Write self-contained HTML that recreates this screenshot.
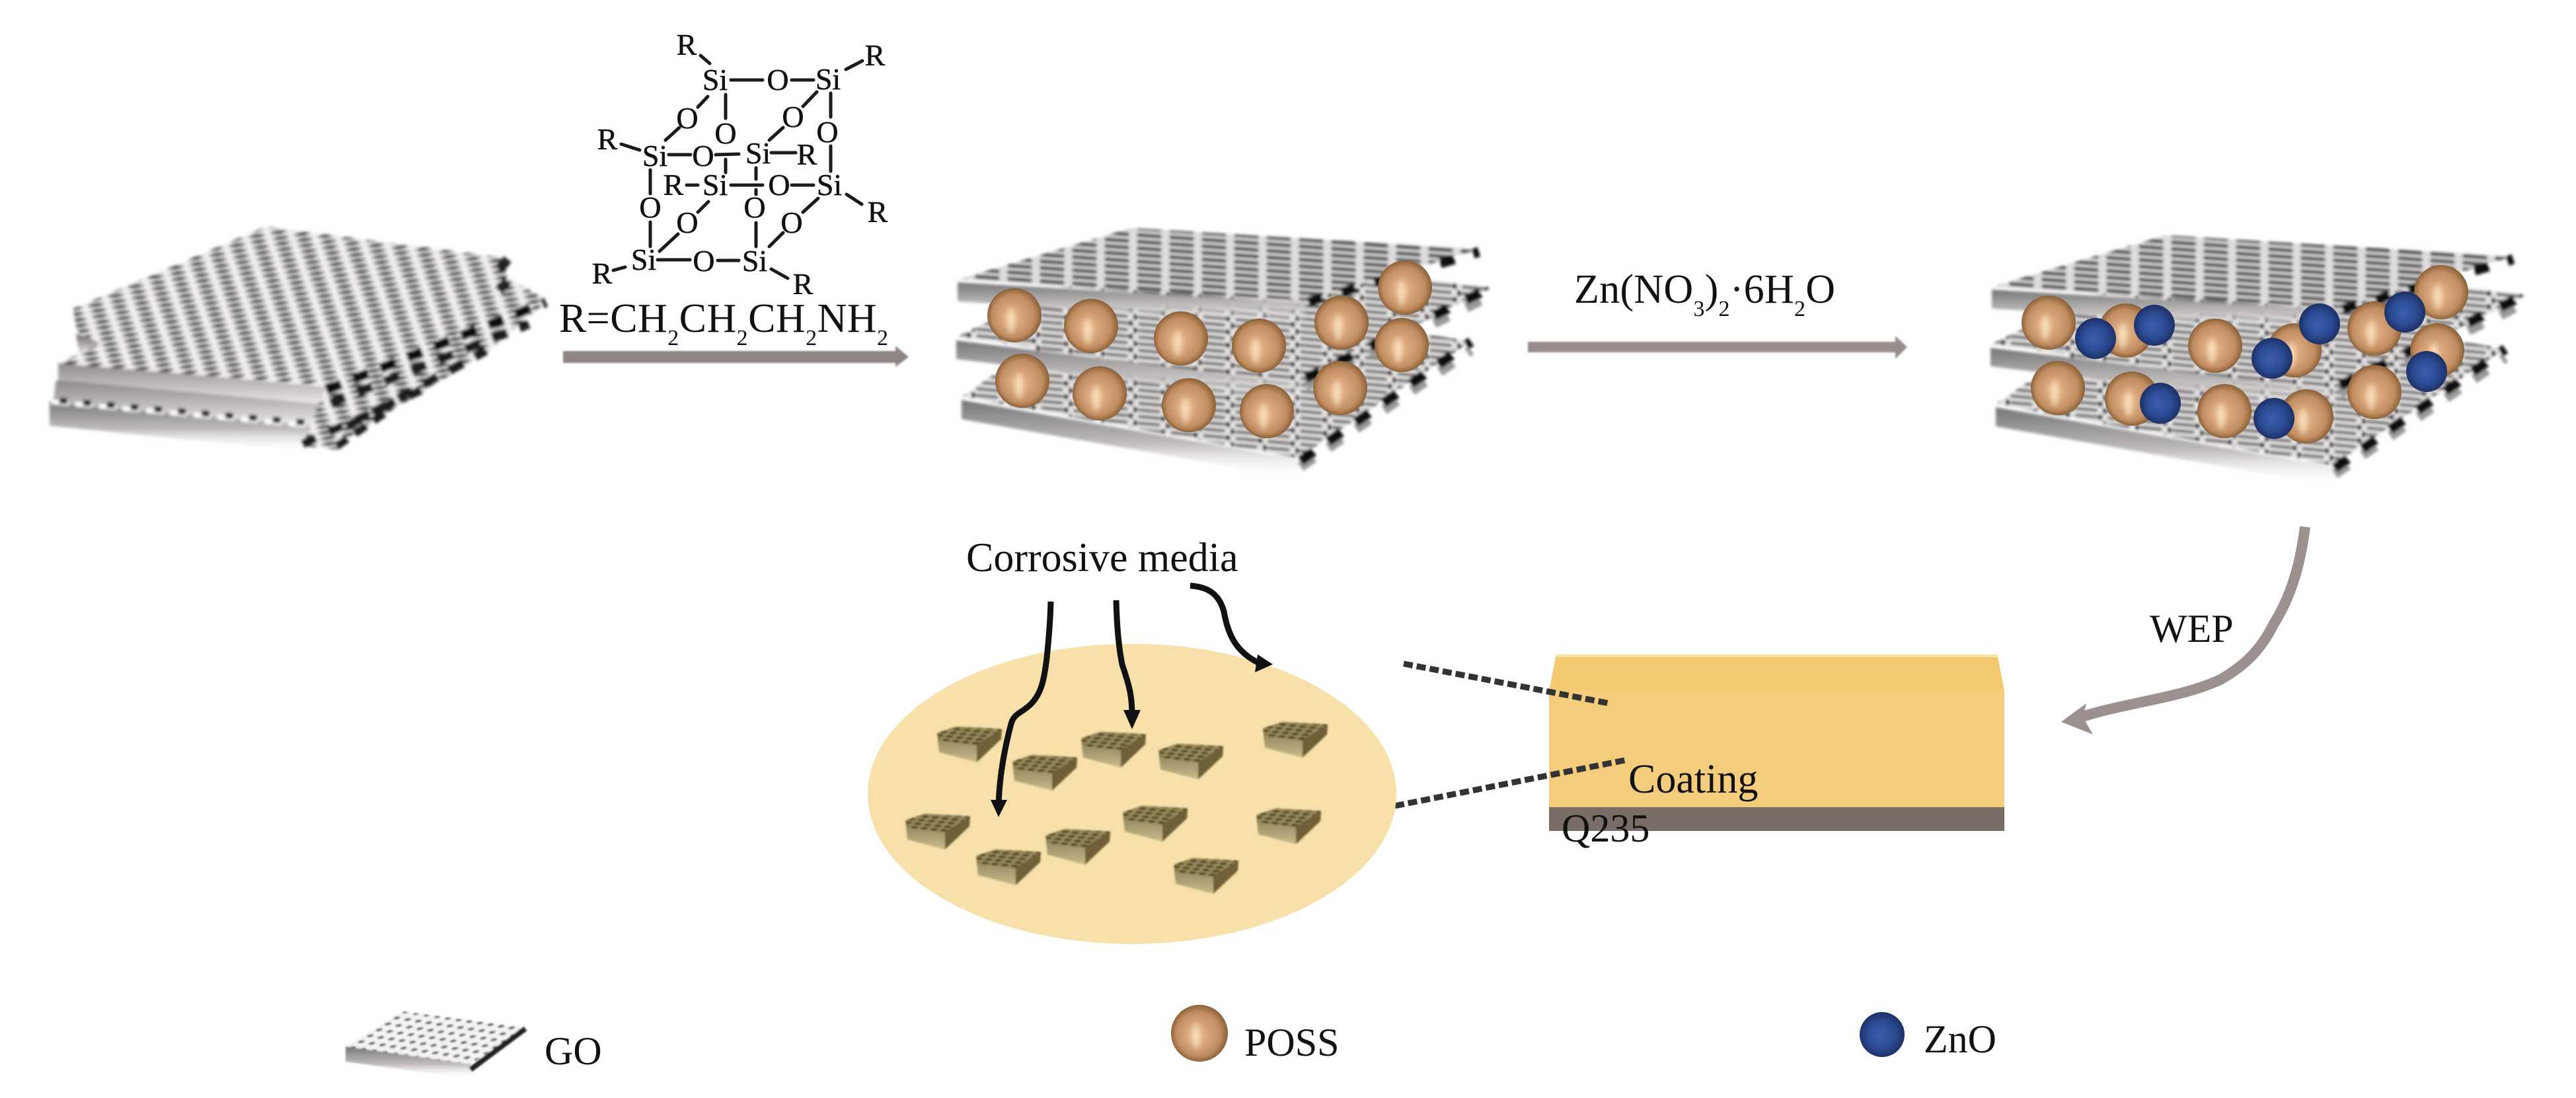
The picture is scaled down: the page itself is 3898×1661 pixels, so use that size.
<!DOCTYPE html>
<html><head><meta charset="utf-8"><style>
html,body{margin:0;padding:0;background:#fff;width:3898px;height:1661px;overflow:hidden}
svg{display:block}
text{font-family:"Liberation Serif",serif;fill:#111}
.c{font-size:46px;text-anchor:middle;stroke:#111;stroke-width:.5}
.l{font-size:62px}
.b line{stroke:#1c1a1a;stroke-width:5;stroke-linecap:round}
</style></head><body>
<svg xmlns="http://www.w3.org/2000/svg" width="3898" height="1661" viewBox="0 0 3898 1661">
<defs>
<filter id="bl" x="-5%" y="-5%" width="110%" height="110%"><feGaussianBlur stdDeviation="2.4"/></filter>
<filter id="bl2" x="-5%" y="-5%" width="110%" height="110%"><feGaussianBlur stdDeviation="1.3"/></filter>
<filter id="bl3" x="-5%" y="-5%" width="110%" height="110%"><feGaussianBlur stdDeviation="2.2"/></filter>
<filter id="bh" x="-100%" y="-50%" width="300%" height="200%"><feGaussianBlur stdDeviation="4"/></filter>
<radialGradient id="bg"><stop offset="0" stop-color="#1f1e1e"/><stop offset=".55" stop-color="#4f4d4d"/><stop offset="1" stop-color="#aaa6a6"/></radialGradient>
<pattern id="goM" width="36" height="30" patternUnits="userSpaceOnUse" patternTransform="matrix(1,.08,1,-.47,0,0)">
<rect width="36" height="30" fill="#f0eded"/>
<ellipse cx="9" cy="7.5" rx="10.5" ry="8" fill="url(#bg)"/>
<ellipse cx="27" cy="22.5" rx="10.5" ry="8" fill="url(#bg)"/>
</pattern>
<pattern id="poT" width="49" height="10" patternUnits="userSpaceOnUse" patternTransform="matrix(1,.07,0,1,0,0)">
<rect width="49" height="10" fill="#dedbdb"/>
<rect x="5" y="2" width="38" height="6" rx="3" fill="#504d4d"/>
</pattern>
<pattern id="poL" width="49" height="20" patternUnits="userSpaceOnUse" patternTransform="matrix(1,.09,0,1,0,0)">
<rect width="49" height="20" fill="#e6e3e3"/>
<rect x="7" y="2.5" width="34" height="5" rx="2.5" fill="#6a6767"/>
<rect x="7" y="12.5" width="34" height="5" rx="2.5" fill="#6a6767"/>
<ellipse cx="2" cy="5" rx="4.5" ry="4.5" fill="#111"/>
<ellipse cx="45" cy="15" rx="4" ry="4" fill="#222"/>
</pattern>
<pattern id="lg" width="16" height="15" patternUnits="userSpaceOnUse" patternTransform="matrix(1,.15,.9,-.6,0,0)">
<rect width="16" height="15" fill="#f4f2f2"/>
<ellipse cx="8" cy="7.5" rx="4" ry="3.6" fill="#5a5a5a"/>
</pattern>
<pattern id="nz" width="15" height="11" patternUnits="userSpaceOnUse" patternTransform="matrix(1,.1,.5,-.5,0,0)">
<rect width="15" height="11" fill="#958859"/>
<ellipse cx="7" cy="5" rx="5.5" ry="3.6" fill="#4f4528"/>
</pattern>
<linearGradient id="st" x1="0" y1="0" x2="0" y2="1"><stop offset="0" stop-color="#6a6666"/><stop offset=".5" stop-color="#b5b0b0"/><stop offset="1" stop-color="#fff"/></linearGradient>
<linearGradient id="st2" x1="0" y1="0" x2="0" y2="1"><stop offset="0" stop-color="#8c8888"/><stop offset=".6" stop-color="#c6c2c2"/><stop offset="1" stop-color="#eeecec"/></linearGradient>
<linearGradient id="st3" x1="0" y1="0" x2="0" y2="1"><stop offset="0" stop-color="#777"/><stop offset=".55" stop-color="#c0bcbc"/><stop offset="1" stop-color="#fff" stop-opacity="0"/></linearGradient>
<linearGradient id="bf" x1="0" y1="0" x2="0" y2="1"><stop offset="0" stop-color="#85784e"/><stop offset=".5" stop-color="#a2956a"/><stop offset="1" stop-color="#c9ba8a"/></linearGradient>
<radialGradient id="or" cx=".5" cy=".5" r=".52" fx=".42" fy=".56"><stop offset="0" stop-color="#ecbe92"/><stop offset=".4" stop-color="#d6a278"/><stop offset=".75" stop-color="#c08c60"/><stop offset=".93" stop-color="#94683f"/><stop offset="1" stop-color="#7c5a3c"/></radialGradient>
<radialGradient id="bu" cx=".5" cy=".5" r=".52" fx=".44" fy=".52"><stop offset="0" stop-color="#3a60ae"/><stop offset=".6" stop-color="#2b4a92"/><stop offset="1" stop-color="#1c2e62"/></radialGradient>
<g id="stack">
<g filter="url(#bl3)">
<polygon points="1455,605 1965,695 1965,724 1455,634" fill="url(#st3)"/>
<polygon points="1455,600 1714,424 2224,517 1965,693" fill="url(#poL)"/>
<line x1="1968" y1="706" x2="2226" y2="530" stroke="#999" stroke-width="15" stroke-dasharray="24 27"/>
<line x1="1968" y1="697" x2="2226" y2="517" stroke="#111" stroke-width="15" stroke-dasharray="24 27"/>
<polygon points="1447,515 1970,580 1970,608 1447,543" fill="url(#st3)"/>
<polygon points="1447,510 1737,371 2258,435 1970,577" fill="url(#poL)"/>
<line x1="1976" y1="584" x2="2256" y2="447" stroke="#999" stroke-width="15" stroke-dasharray="24 30"/>
<line x1="1976" y1="572" x2="2256" y2="435" stroke="#111" stroke-width="15" stroke-dasharray="24 30"/>
<polygon points="1449,427 1975,458 1975,488 1449,456" fill="url(#st3)"/>
<polygon points="1449,423 1712,345 2238,377 1975,455" fill="url(#poT)"/>
<line x1="1980" y1="457" x2="2238" y2="381" stroke="#111" stroke-width="15" stroke-dasharray="22 30"/>
</g>
</g>
<g id="o"><circle r="41" fill="url(#or)"/><ellipse cx="-5" cy="8" rx="6" ry="20" fill="#fff0d0" opacity=".65" filter="url(#bh)"/></g>
<g id="z"><circle r="31" fill="url(#bu)"/></g>
<g id="blk">
<polygon points="-49,-17 -20,-27 49,-23 48,-8 11,27 -46,12" fill="url(#bf)"/>
<polygon points="-49,-17 -20,-27 49,-23 11,2 -46,-6" fill="url(#nz)"/>
<polygon points="11,0 49,-23 48,-8 11,27" fill="#6f6038"/>
</g>
</defs>
<rect width="3898" height="1661" fill="#fff"/>

<!-- GO stack -->
<g filter="url(#bl)">
<polygon points="75,607 473,642 473,684 75,644" fill="url(#st3)"/>
<polygon points="85,575 500,607 490,645 80,610" fill="url(#st2)"/>
<polygon points="88,548 494,585 496,612 88,575" fill="url(#st2)"/>
<polygon points="111,467 180,478 180,498 114,490" fill="url(#st)"/>
<polygon points="115,505 180,520 180,540 120,535" fill="url(#st)"/>
<polygon points="494,583 826,457 734,535 537,655 509,680 458,675 470,640" fill="url(#goM)"/>
<polygon points="402,343 764,390 767,420 826,453 494,583 88,550 152,520 116,500 111,467" fill="url(#goM)"/>
<line x1="78" y1="608" x2="472" y2="644" stroke="#fff" stroke-width="7" stroke-dasharray="26 10"/>
<line x1="90" y1="606" x2="472" y2="640" stroke="#1c1c1c" stroke-width="9" stroke-dasharray="12 24"/>
<line x1="494" y1="590" x2="826" y2="457" stroke="#111" stroke-width="15" stroke-dasharray="24 20"/>
<line x1="500" y1="610" x2="800" y2="490" stroke="#1c1c1c" stroke-width="14" stroke-dasharray="24 20"/>
<line x1="525" y1="645" x2="735" y2="530" stroke="#1c1c1c" stroke-width="14" stroke-dasharray="24 20"/>
<line x1="458" y1="672" x2="637" y2="590" stroke="#1c1c1c" stroke-width="13" stroke-dasharray="22 22"/>
<line x1="509" y1="675" x2="586" y2="622" stroke="#1c1c1c" stroke-width="12" stroke-dasharray="20 14"/>
<line x1="755" y1="408" x2="768" y2="392" stroke="#222" stroke-width="15"/>
<line x1="755" y1="440" x2="768" y2="425" stroke="#222" stroke-width="15"/>
</g>

<!-- POSS structure -->
<use href="#stack"/>
<use href="#o" x="1535" y="477"/><use href="#o" x="1651" y="493"/><use href="#o" x="1787" y="512"/><use href="#o" x="1905" y="523"/><use href="#o" x="2030" y="488"/><use href="#o" x="2126" y="435"/><use href="#o" x="2121" y="522"/><use href="#o" x="1547" y="576"/><use href="#o" x="1664" y="595"/><use href="#o" x="1799" y="613"/><use href="#o" x="1917" y="622"/><use href="#o" x="2028" y="587"/>

<!-- POSS + ZnO structure -->
<use href="#stack" x="1565" y="11"/>
<use href="#o" x="3100" y="488"/><use href="#o" x="3217" y="500"/><use href="#o" x="3352" y="523"/><use href="#o" x="3472" y="530"/><use href="#o" x="3593" y="497"/><use href="#o" x="3694" y="442"/><use href="#o" x="3688" y="530"/><use href="#o" x="3114" y="587"/><use href="#o" x="3226" y="603"/><use href="#o" x="3366" y="622"/><use href="#o" x="3490" y="630"/><use href="#o" x="3593" y="593"/>
<use href="#z" x="3171" y="512"/><use href="#z" x="3260" y="492"/><use href="#z" x="3510" y="490"/><use href="#z" x="3438" y="542"/><use href="#z" x="3639" y="472"/><use href="#z" x="3672" y="562"/><use href="#z" x="3269" y="610"/><use href="#z" x="3441" y="633"/>

<!-- POSS cage -->
<g class="b">
<line x1="1106" y1="121" x2="1154" y2="121"/><line x1="1198" y1="121" x2="1231" y2="121"/><line x1="1060" y1="84" x2="1074" y2="96"/><line x1="1280" y1="105" x2="1305" y2="92"/><line x1="1071" y1="146" x2="1056" y2="162"/><line x1="1028" y1="193" x2="1007" y2="212"/><line x1="1098" y1="143" x2="1098" y2="179"/><line x1="1236" y1="139" x2="1215" y2="161"/><line x1="1185" y1="193" x2="1164" y2="212"/><line x1="1257" y1="141" x2="1257" y2="177"/><line x1="1257" y1="221" x2="1257" y2="259"/><line x1="940" y1="218" x2="968" y2="227"/><line x1="1012" y1="234" x2="1045" y2="234"/><line x1="1083" y1="234" x2="1118" y2="233"/><line x1="1167" y1="231" x2="1204" y2="231"/><line x1="1098" y1="241" x2="1098" y2="261"/><line x1="1144" y1="254" x2="1144" y2="271"/><line x1="984" y1="257" x2="984" y2="293"/><line x1="1039" y1="280" x2="1056" y2="280"/><line x1="1106" y1="280" x2="1154" y2="280"/><line x1="1198" y1="280" x2="1231" y2="280"/><line x1="1144" y1="287" x2="1144" y2="294"/><line x1="1072" y1="305" x2="1056" y2="321"/><line x1="1238" y1="300" x2="1215" y2="321"/><line x1="1281" y1="294" x2="1304" y2="309"/><line x1="984" y1="336" x2="984" y2="373"/><line x1="1026" y1="354" x2="998" y2="380"/><line x1="1144" y1="337" x2="1144" y2="373"/><line x1="1185" y1="352" x2="1164" y2="373"/><line x1="995" y1="393" x2="1044" y2="393"/><line x1="1086" y1="394" x2="1118" y2="394"/><line x1="928" y1="409" x2="946" y2="404"/><line x1="1167" y1="407" x2="1192" y2="421"/>
</g>
<g class="cg">
<text class="c" x="1082" y="136">Si</text><text class="c" x="1177" y="136">O</text><text class="c" x="1253" y="135">Si</text><text class="c" x="1039" y="83">R</text><text class="c" x="1324" y="99">R</text><text class="c" x="1040" y="194">O</text><text class="c" x="1098" y="217">O</text><text class="c" x="1200" y="192">O</text><text class="c" x="1252" y="215">O</text><text class="c" x="919" y="226">R</text><text class="c" x="991" y="251">Si</text><text class="c" x="1064" y="251">O</text><text class="c" x="1147" y="247">Si</text><text class="c" x="1221" y="249">R</text><text class="c" x="1019" y="295">R</text><text class="c" x="1082" y="295">Si</text><text class="c" x="1179" y="295">O</text><text class="c" x="1255" y="295">Si</text><text class="c" x="984" y="329">O</text><text class="c" x="1142" y="329">O</text><text class="c" x="1040" y="352">O</text><text class="c" x="1198" y="352">O</text><text class="c" x="1328" y="336">R</text><text class="c" x="974" y="408">Si</text><text class="c" x="1065" y="410">O</text><text class="c" x="1142" y="410">Si</text><text class="c" x="911" y="429">R</text><text class="c" x="1215" y="445">R</text>
</g>
<text class="l" x="846" y="502" textLength="498">R=CH<tspan dy="20" font-size="34">2</tspan><tspan dy="-20">CH</tspan><tspan dy="20" font-size="34">2</tspan><tspan dy="-20">CH</tspan><tspan dy="20" font-size="34">2</tspan><tspan dy="-20">NH</tspan><tspan dy="20" font-size="34">2</tspan></text>

<!-- process arrows -->
<polygon points="852,531 1355,531 1355,523 1375,540 1355,555 1355,549 852,549" fill="#8f8684" filter="url(#bl2)"/>
<polygon points="2312,517 2868,517 2868,508 2886,525 2868,543 2868,533 2312,533" fill="#978d8b" filter="url(#bl2)"/>
<text class="l" x="2382" y="458" textLength="395">Zn(NO<tspan dy="20" font-size="34">3</tspan><tspan dy="-20">)</tspan><tspan dy="20" font-size="34">2</tspan><tspan dy="-20">·6H</tspan><tspan dy="20" font-size="34">2</tspan><tspan dy="-20">O</tspan></text>

<!-- WEP arrow -->
<path d="M3488,797 C3480,860 3465,905 3440,945 C3420,985 3395,1008 3360,1028 C3300,1056 3220,1062 3148,1085" fill="none" stroke="#9c918f" stroke-width="16"/>
<polygon points="3119,1092 3157,1064 3152,1085 3167,1111" fill="#9c918f"/>
<text class="l" x="3253" y="971" style="font-size:60px">WEP</text>

<!-- coating block -->
<polygon points="2354,990 3023,990 3023,1000 2354,1000" fill="#fbe3a8"/>
<polygon points="2354,994 3023,994 3033,1045 2344,1045" fill="#f3ca72"/>
<rect x="2344" y="1045" width="689" height="176" fill="#f3cd7c"/>
<rect x="2344" y="1221" width="689" height="36" fill="#7a6d68"/>
<text class="l" x="2464" y="1199">Coating</text>
<text class="l" x="2363" y="1273" style="font-size:60px">Q235</text>

<!-- dashed leaders -->
<line x1="2124" y1="1004" x2="2435" y2="1064" stroke="#333" stroke-width="9" stroke-dasharray="14 6"/>
<line x1="2111" y1="1219" x2="2464" y2="1149" stroke="#333" stroke-width="9" stroke-dasharray="14 6"/>

<!-- ellipse and particles -->
<ellipse cx="1713" cy="1201" rx="400" ry="227" fill="#f7e0a9"/>
<g filter="url(#bl2)">
<use href="#blk" x="1467" y="1126"/><use href="#blk" x="1581" y="1169"/><use href="#blk" x="1685" y="1134"/><use href="#blk" x="1802" y="1152"/><use href="#blk" x="1960" y="1119"/><use href="#blk" x="1419" y="1258"/><use href="#blk" x="1526" y="1312"/><use href="#blk" x="1631" y="1281"/><use href="#blk" x="1748" y="1246"/><use href="#blk" x="1950" y="1250"/><use href="#blk" x="1825" y="1325"/>
</g>

<!-- corrosive media arrows -->
<text class="l" x="1462" y="864">Corrosive media</text>
<g fill="none" stroke="#111" stroke-width="9">
<path d="M1590,910 C1589,950 1586,975 1584,995 C1580,1030 1575,1050 1560,1065 C1545,1080 1535,1078 1530,1095 C1518,1140 1512,1180 1511,1219"/>
<path d="M1689,908 C1690,950 1693,980 1698,1005 C1708,1035 1713,1050 1713,1082"/>
<path d="M1801,886 C1830,888 1845,900 1852,925 C1858,960 1870,985 1903,1002"/>
</g>
<polygon points="1511,1236 1499,1210 1524,1210" fill="#111"/>
<polygon points="1713,1103 1700,1074 1726,1074" fill="#111"/>
<polygon points="1926,1005 1903,990 1899,1017" fill="#111"/>

<!-- legend -->
<g filter="url(#bl2)">
<polygon points="523,1583 712,1610 712,1632 523,1606" fill="url(#st3)"/>
<polygon points="609,1530 795,1555 712,1610 523,1583" fill="url(#lg)"/>
<line x1="795" y1="1556" x2="712" y2="1618" stroke="#222" stroke-width="8"/>
</g>
<text class="l" x="824" y="1610" style="font-size:60px">GO</text>
<g transform="translate(1815,1563)"><circle r="43" fill="url(#or)"/><ellipse cx="-5" cy="4" rx="6" ry="20" fill="#fff0d0" opacity=".65" filter="url(#bh)"/></g>
<text class="l" x="1883" y="1597" style="font-size:60px">POSS</text>
<circle cx="2848" cy="1565" r="34" fill="url(#bu)"/>
<text class="l" x="2911" y="1592" style="font-size:60px">ZnO</text>
</svg>
</body></html>
